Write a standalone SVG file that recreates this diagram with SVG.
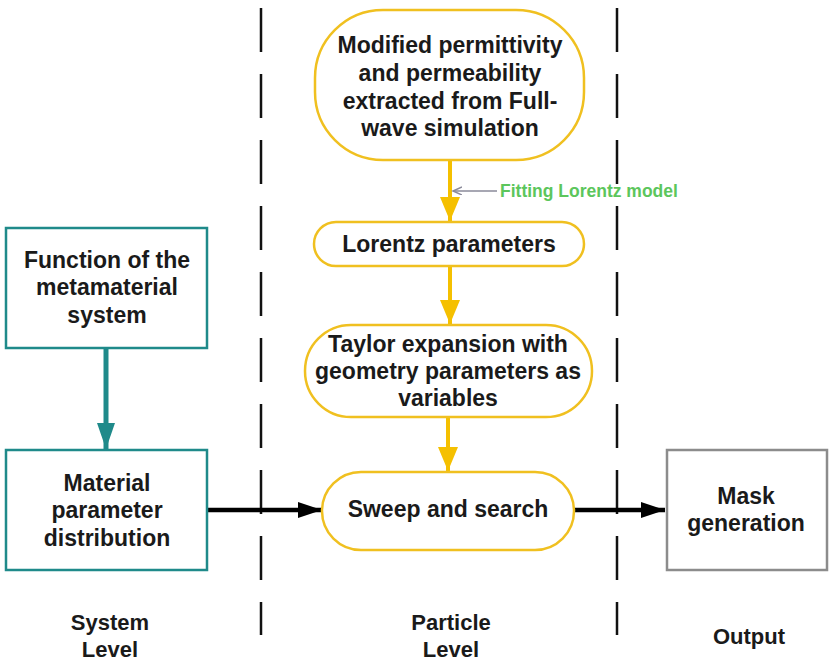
<svg xmlns="http://www.w3.org/2000/svg" width="831" height="662" viewBox="0 0 831 662">
<style>
  text { font-family: "Liberation Sans", Arial, sans-serif; font-weight: bold; fill: #1a1a1a; text-anchor: middle; }
  .t { font-size: 23px; }
  .lbl { font-size: 22px; }
  .oval { fill: #fff; stroke: #f0c020; stroke-width: 2.5; }
  .teal { fill: #fff; stroke: #1f8a8a; stroke-width: 2.5; }
  .gray { fill: #fff; stroke: #8c8c8c; stroke-width: 2.5; }
  .dash { stroke: #111; stroke-width: 2.5; stroke-dasharray: 44 22; fill: none; }
  .ya { stroke: #f5c000; stroke-width: 4; fill: none; }
  .ta { stroke: #1f8a8a; stroke-width: 5; fill: none; }
  .ba { stroke: #000; stroke-width: 4.5; fill: none; }
  .green { fill: #5cc65c; font-size: 17.5px; text-anchor: start; }
</style>
<defs>
  <marker id="yh" markerUnits="userSpaceOnUse" markerWidth="26" markerHeight="22" refX="24" refY="10" orient="auto">
    <path d="M0,0 L24,10 L0,20 Z" fill="#f5c000"/>
  </marker>
  <marker id="th" markerUnits="userSpaceOnUse" markerWidth="28" markerHeight="20" refX="26" refY="9" orient="auto">
    <path d="M0,0 L26,9 L0,18 Z" fill="#1f8a8a"/>
  </marker>
  <marker id="bh" markerUnits="userSpaceOnUse" markerWidth="26" markerHeight="18" refX="24" refY="8" orient="auto">
    <path d="M0,0 L24,8 L0,16 Z" fill="#000"/>
  </marker>
  <marker id="gh" markerUnits="userSpaceOnUse" markerWidth="12" markerHeight="10" refX="9" refY="4" orient="auto">
    <path d="M0,0 L9,4 L0,8" fill="none" stroke="#8a8a9a" stroke-width="1.5"/>
  </marker>
</defs>

<g id="dividers">
  <line class="dash" x1="261" y1="8" x2="261" y2="635"/>
  <line class="dash" x1="617" y1="8" x2="617" y2="635"/>
</g>

<g id="connectors">
  <line class="ya" x1="450" y1="160" x2="450" y2="221" marker-end="url(#yh)"/>
  <line x1="497" y1="191" x2="453" y2="191" stroke="#8a8a9a" stroke-width="1.5" marker-end="url(#gh)"/>
  <line class="ya" x1="450" y1="266" x2="450" y2="324" marker-end="url(#yh)"/>
  <line class="ya" x1="448" y1="417" x2="448" y2="471" marker-end="url(#yh)"/>
  <line class="ta" x1="106" y1="348" x2="106" y2="449" marker-end="url(#th)"/>
  <line class="ba" x1="205" y1="510" x2="322" y2="510" marker-end="url(#bh)"/>
  <line class="ba" x1="574" y1="510" x2="665" y2="510" marker-end="url(#bh)"/>
</g>

<g id="fitting-label">
  <text class="green" x="500" y="197">Fitting Lorentz model</text>
</g>

<g id="node-full-wave">
  <rect class="oval" x="315" y="10" width="269" height="150" rx="68" ry="68"/>
  <text class="t" x="450" y="53">Modified permittivity</text>
  <text class="t" x="450" y="81">and permeability</text>
  <text class="t" x="450" y="109">extracted from Full-</text>
  <text class="t" x="450" y="136">wave simulation</text>
</g>

<g id="node-lorentz">
  <rect class="oval" x="314" y="222" width="270" height="44" rx="22" ry="22"/>
  <text class="t" x="449" y="252">Lorentz parameters</text>
</g>

<g id="node-taylor">
  <rect class="oval" x="305" y="325" width="287" height="92" rx="46" ry="46"/>
  <text class="t" x="448" y="352">Taylor expansion with</text>
  <text class="t" x="448" y="379">geometry parameters as</text>
  <text class="t" x="448" y="406">variables</text>
</g>

<g id="node-sweep">
  <rect class="oval" x="322" y="472" width="252" height="78" rx="39" ry="39"/>
  <text class="t" x="448" y="517">Sweep and search</text>
</g>

<g id="node-function">
  <rect class="teal" x="6" y="228" width="201" height="120"/>
  <text class="t" x="107" y="268">Function of the</text>
  <text class="t" x="107" y="295">metamaterial</text>
  <text class="t" x="107" y="323">system</text>
</g>

<g id="node-material">
  <rect class="teal" x="6" y="450" width="201" height="120"/>
  <text class="t" x="107" y="491">Material</text>
  <text class="t" x="107" y="518">parameter</text>
  <text class="t" x="107" y="546">distribution</text>
</g>

<g id="node-mask">
  <rect class="gray" x="667" y="450" width="160" height="120"/>
  <text class="t" x="746" y="504">Mask</text>
  <text class="t" x="746" y="531">generation</text>
</g>

<g id="level-labels">
  <text class="lbl" x="110" y="630">System</text>
  <text class="lbl" x="110" y="657">Level</text>
  <text class="lbl" x="451" y="630">Particle</text>
  <text class="lbl" x="451" y="657">Level</text>
  <text class="lbl" x="749" y="644">Output</text>
</g>
</svg>
